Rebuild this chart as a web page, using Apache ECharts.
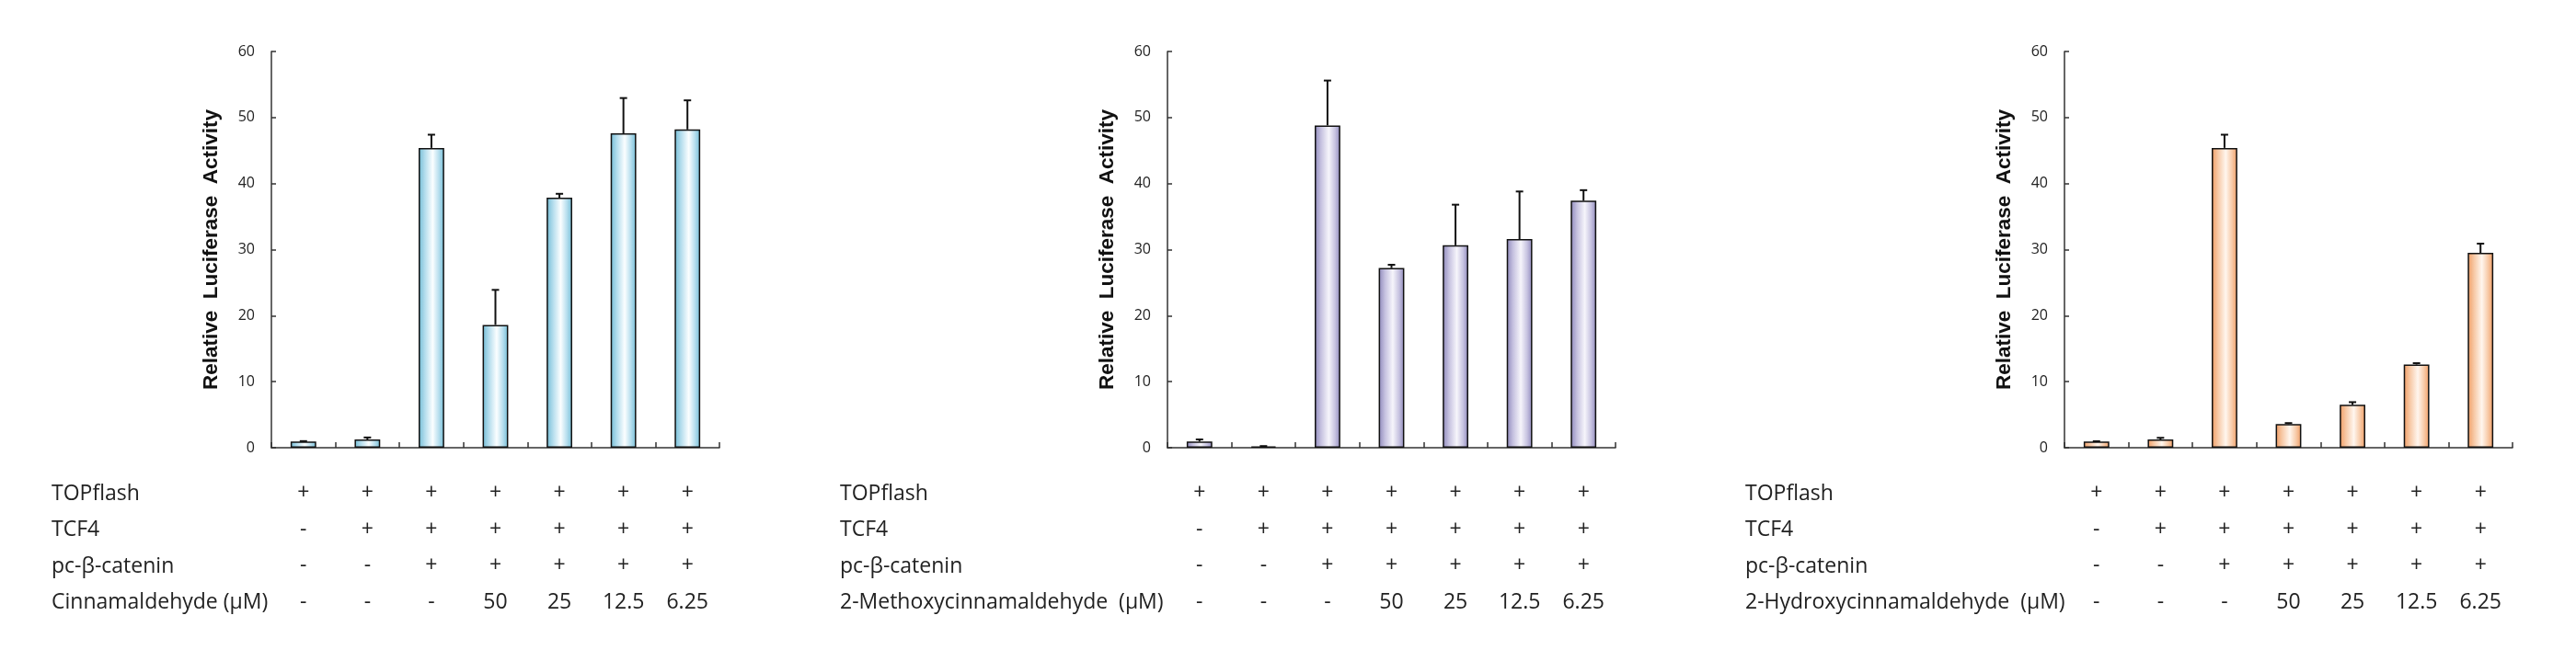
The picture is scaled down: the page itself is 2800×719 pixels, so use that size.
<!DOCTYPE html>
<html><head><meta charset="utf-8">
<script src="https://cdn.jsdelivr.net/npm/echarts@6/dist/echarts.min.js"></script>
<style>html,body{margin:0;padding:0;background:#fff}#c{width:2800px;height:719px}</style>
</head><body><div id="c"></div>
<script>
// ---- data ----
const yTicks = [0, 10, 20, 30, 40, 50, 60];
const rowNames = ['TOPflash', 'TCF4', 'pc-β-catenin'];
const compounds = ['Cinnamaldehyde (μM)', '2-Methoxycinnamaldehyde  (μM)', '2-Hydroxycinnamaldehyde  (μM)'];
const topflash = ['+', '+', '+', '+', '+', '+', '+'];
const tcf4 = ['-', '+', '+', '+', '+', '+', '+'];
const pcCatenin = ['-', '-', '+', '+', '+', '+', '+'];
const doses = ['-', '-', '-', '50', '25', '12.5', '6.25'];

const cinnMean = [0.95, 1.25, 45.4, 18.6, 37.85, 47.6, 48.2];
const cinnErr  = [0.05, 0.3, 2.0, 5.3, 0.6, 5.35, 4.4];
const methMean = [0.95, 0.2, 48.8, 27.2, 30.65, 31.6, 37.4];
const methErr  = [0.3, 0.05, 6.8, 0.5, 6.15, 7.2, 1.6];
const hydrMean = [0.93, 1.25, 45.4, 3.58, 6.5, 12.6, 29.5];
const hydrErr  = [0.05, 0.25, 2.0, 0.15, 0.4, 0.2, 1.4];

// ---- layout / style ----
const gridLefts = [295, 1269, 2244];
const gridTop = 56, gridW = 487, gridH = 431;
const labelLefts = [56, 913, 1897];
const rowTop = 537, rowStep = 39.5;
const edgeColors = [['#72bcd5', '#b4dded', '#fbfeff'], ['#8e88bb', '#c6c2e0', '#f6f5fb'], ['#f09c63', '#f7c9a6', '#fff6ee']];
const means = [cinnMean, methMean, hydrMean];
const errs = [cinnErr, methErr, hydrErr];
const textFont = 'Open Sans';

const chart = echarts.init(document.getElementById('c'), null, { renderer: 'canvas' });

const grids = [], xAxes = [], yAxes = [], series = [], graphics = [];
for (let p = 0; p < 3; p++) {
  grids.push({ left: gridLefts[p], top: gridTop, width: gridW, height: gridH, containLabel: false });
  xAxes.push({
    type: 'category', gridIndex: p, data: doses, boundaryGap: true,
    axisLine: { lineStyle: { color: '#333', width: 1.5 } },
    axisTick: { show: true, inside: true, length: 6, alignWithLabel: false, lineStyle: { color: '#333', width: 1.5 } },
    axisLabel: {
      interval: 0, margin: 30, fontFamily: textFont, fontSize: 23, color: '#222', lineHeight: rowStep,
      formatter: (v, i) => [topflash[i], tcf4[i], pcCatenin[i], doses[i]].join('\n')
    },
    splitLine: { show: false }
  });
  yAxes.push({
    type: 'value', gridIndex: p, min: yTicks[0], max: yTicks[yTicks.length - 1], interval: yTicks[1] - yTicks[0],
    name: 'Relative  Luciferase  Activity', nameLocation: 'middle', nameGap: 54, nameRotate: 90,
    nameTextStyle: { fontFamily: 'Liberation Sans', fontWeight: 'bold', fontSize: 22.5, color: '#111' },
    axisLine: { show: true, lineStyle: { color: '#333', width: 1.5 } },
    axisTick: { show: true, inside: true, length: 5, lineStyle: { color: '#333', width: 1.5 } },
    axisLabel: { margin: 18, fontFamily: textFont, fontSize: 16, color: '#222' },
    splitLine: { show: false }
  });
  const c = edgeColors[p];
  series.push({
    type: 'bar', xAxisIndex: p, yAxisIndex: p, barWidth: '40%',
    data: means[p],
    itemStyle: {
      borderColor: '#111', borderWidth: 1.5,
      color: new echarts.graphic.LinearGradient(0, 0, 1, 0, [
        { offset: 0, color: c[0] }, { offset: 0.25, color: c[1] }, { offset: 0.55, color: c[2] },
        { offset: 0.8, color: c[1] }, { offset: 1, color: c[0] }
      ])
    },
    silent: true, animation: false
  });
  series.push({
    type: 'custom', xAxisIndex: p, yAxisIndex: p, z: 5, animation: false, silent: true,
    data: means[p].map((m, i) => [i, m, errs[p][i]]),
    encode: { x: 0, y: 1 },
    renderItem: (params, api) => {
      const x = api.value(0), m = api.value(1), e = api.value(2);
      const p0 = api.coord([x, m]), p1 = api.coord([x, m + e]);
      const cap = 4;
      const st = { stroke: '#111', lineWidth: 2 };
      return { type: 'group', children: [
        { type: 'line', shape: { x1: p0[0], y1: p0[1], x2: p1[0], y2: p1[1] }, style: st },
        { type: 'line', shape: { x1: p1[0] - cap, y1: p1[1], x2: p1[0] + cap, y2: p1[1] }, style: st }
      ] };
    }
  });
  const labels = rowNames.concat([compounds[p]]);
  labels.forEach((t, r) => {
    graphics.push({
      type: 'text', silent: true,
      style: { text: t, x: labelLefts[p], y: rowTop + r * rowStep, fontFamily: textFont, fontSize: 23,
               fill: '#222', textVerticalAlign: 'middle', verticalAlign: 'middle', textAlign: 'left', align: 'left' }
    });
  });
}

chart.setOption({
  backgroundColor: '#fff', animation: false,
  grid: grids, xAxis: xAxes, yAxis: yAxes, series: series, graphic: graphics
});
</script>
</body></html>
